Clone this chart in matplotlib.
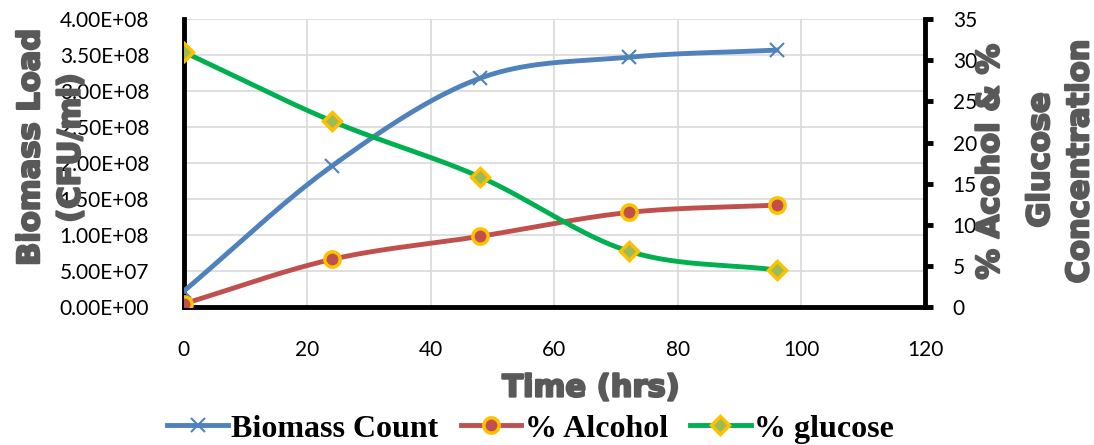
import numpy as np
import matplotlib.pyplot as plt
import matplotlib.patheffects as pe
from matplotlib.lines import Line2D

# sampling times and measurements
hours = [0, 24, 48, 72, 96]
biomass = [2.2e7, 1.96e8, 3.18e8, 3.47e8, 3.57e8]
alcohol = [0.4, 5.8, 8.6, 11.5, 12.4]
glucose = [31.0, 22.6, 15.8, 6.8, 4.5]

left_ticks = np.arange(0, 4.01e8, 5e7)
right_ticks = np.arange(0, 36, 5)
x_ticks = np.arange(0, 121, 20)

BLUE = "#4f81bd"
RED = "#c0504d"
GREEN = "#00b050"
GOLD = "#ffc000"
GREY = "#595959"


def smooth(x, y, n=40):
    # Catmull-Rom curve through the points, like a spreadsheet "smoothed line"
    x = np.asarray(x, float)
    y = np.asarray(y, float)
    px = np.concatenate([[2 * x[0] - x[1]], x, [2 * x[-1] - x[-2]]])
    py = np.concatenate([[2 * y[0] - y[1]], y, [2 * y[-1] - y[-2]]])
    xs, ys = [], []
    t = np.linspace(0, 1, n)
    for i in range(1, len(px) - 2):
        for p, out in ((px, xs), (py, ys)):
            p0, p1, p2, p3 = p[i - 1], p[i], p[i + 1], p[i + 2]
            out.extend(0.5 * (2 * p1 + (-p0 + p2) * t
                              + (2 * p0 - 5 * p1 + 4 * p2 - p3) * t ** 2
                              + (-p0 + 3 * p1 - 3 * p2 + p3) * t ** 3))
    return np.array(xs), np.array(ys)


tick_font = ["Liberation Sans Narrow", "Lato"]
heavy = [pe.withStroke(linewidth=1.6, foreground=GREY)]
title_font = dict(family="DejaVu Sans", weight="bold", color=GREY,
                  fontsize=22, path_effects=heavy)

fig = plt.figure(figsize=(10.94, 4.45), dpi=100)
ax = fig.add_axes([0.168, 0.310, 0.6775, 0.647])
ax2 = ax.twinx()

ax.set_xlim(0, 120)
ax.set_ylim(0, 4e8)
ax2.set_ylim(0, 35)
ax.set_xticks(x_ticks)
ax.set_yticks(left_ticks)
ax.set_yticklabels([f"{v:.2E}" for v in left_ticks])
ax2.set_yticks(right_ticks)

ax.grid(True, color="#d9d9d9", linewidth=1.2)
ax.set_axisbelow(True)
for a in (ax, ax2):
    for s in a.spines.values():
        s.set_linewidth(3.5)
    a.spines["top"].set_visible(False)
ax.spines["right"].set_visible(False)
ax2.spines["left"].set_visible(False)
ax2.spines["bottom"].set_visible(False)

ax.tick_params(axis="y", length=0, pad=25, labelsize=15)
ax.tick_params(axis="x", length=0, pad=24, labelsize=15)
ax2.tick_params(axis="y", length=6, width=3.5, pad=14, labelsize=15)
for lab in ax.get_xticklabels() + ax.get_yticklabels() + ax2.get_yticklabels():
    lab.set_family(tick_font)

# biomass on left axis
sx, sy = smooth(hours, biomass)
ax.plot(sx, sy, color=BLUE, lw=3.5, zorder=3)
ax.plot(hours, biomass, ls="none", marker="x", ms=10, mew=1.5, color=BLUE,
        zorder=4)

# alcohol and glucose on right axis
sx, sy = smooth(hours, alcohol)
ax2.plot(sx, sy, color=RED, lw=3.5, zorder=3)
ax2.plot(hours, alcohol, ls="none", marker="o", ms=11, mfc=RED, mec=GOLD,
         mew=2.5, zorder=4)
sx, sy = smooth(hours, glucose)
ax2.plot(sx, sy, color=GREEN, lw=3.5, zorder=3)
ax2.plot(hours, glucose, ls="none", marker="D", ms=9, mfc="#9bbb59",
         mec=GOLD, mew=2.5, zorder=4)

fig.text(0.028, 0.668, "Biomass Load", rotation=90, ha="center",
         va="center", **title_font)
fig.text(0.065, 0.667, "(CFU/ml)", rotation=90, ha="center", va="center",
         **title_font)
fig.text(0.905, 0.636, "% Acohol & %", rotation=90, ha="center",
         va="center", **title_font)
fig.text(0.951, 0.64, "Glucose", rotation=90, ha="center", va="center",
         **title_font)
fig.text(0.987, 0.636, "Concentration", rotation=90, ha="center",
         va="center", **title_font)
fig.text(0.54, 0.128, "Time (hrs)", ha="center", va="center", **title_font)

handles = [
    Line2D([], [], color=BLUE, lw=3.5, marker="x", ms=10, mew=1.5),
    Line2D([], [], color=RED, lw=3.5, marker="o", ms=11, mfc=RED, mec=GOLD,
           mew=2.5),
    Line2D([], [], color=GREEN, lw=3.5, marker="D", ms=9, mfc="#9bbb59",
           mec=GOLD, mew=2.5),
]
fig.legend(handles, ["Biomass Count", "% Alcohol", "% glucose"], loc="center",
           bbox_to_anchor=(0.485, 0.036), ncol=3, frameon=False,
           handlelength=1.9, handletextpad=0.1, columnspacing=0.7,
           prop=dict(family="Liberation Serif", weight="bold", size=23))

fig.savefig("out.png", dpi=100)
